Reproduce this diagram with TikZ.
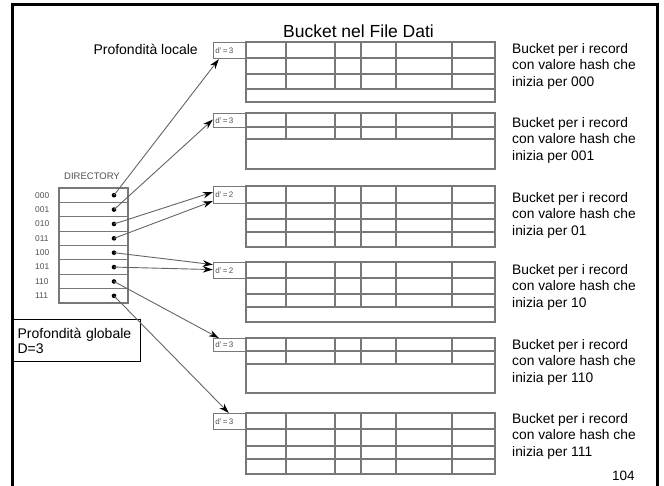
\documentclass[tikz,border=0pt]{standalone}
\usepackage{fontspec}
\setmainfont{Liberation Sans}
\usetikzlibrary{arrows.meta}
\definecolor{bkgray}{RGB}{120,120,120}
\definecolor{argray}{RGB}{100,100,100}
\definecolor{txtgray}{RGB}{80,80,80}
\newcommand\bkt[7]{% name, top, inner lines, vertical end, bottom, label, first row height
  \draw[bk] (246,#2) rectangle (495,#5);
  \foreach \yy in {#3} \draw[bk] (246,\yy) -- (495,\yy);
  \foreach \xx in {286,335,361,396,452} \draw[bk] (\xx,#2) -- (\xx,#4);
  \node[dbox, minimum height=#7pt, anchor=north east] (#1) at (246,#2) {#6};
}
\begin{document}
\begin{tikzpicture}[x=1pt,y=-1pt,
  bk/.style={draw=bkgray, line width=1.2pt},
  dbox/.style={draw=bkgray, line width=1.2pt, inner sep=0pt, minimum width=32pt, text width=28pt, align=left, font=\fontsize{8}{9}\selectfont, text=txtgray},
  dotpt/.style={circle, fill=black, inner sep=0pt, minimum size=4.6pt},
  arr/.style={draw=argray, line width=0.9pt, -{Stealth[length=10pt,width=6.5pt,black]}},
  lbl/.style={anchor=north west, inner sep=0pt, align=left, font=\fontsize{13.8}{16.5}\selectfont},
  dirl/.style={anchor=west, inner sep=0pt, font=\fontsize{8.4}{9}\selectfont, text=txtgray},
]
\useasboundingbox (0,0) rectangle (664,485);
\draw[line width=3pt] (12,487) -- (12,4) -- (657,4) -- (657,487);

% title and labels
\node[anchor=base, inner sep=0pt, font=\fontsize{17.5}{20}\selectfont] (title) at (358.5,37) {Bucket nel File Dati};
\node[anchor=base east, inner sep=0pt, font=\fontsize{14}{16}\selectfont] (ploc) at (198,54) {Profondità locale};

% buckets
\bkt{b1}{42}{58,74,89}{89}{102}{d'\,=\,3}{16}
\bkt{b2}{113}{127,139}{139}{169}{d'\,=\,3}{14}
\bkt{b3}{186}{203,219,232}{247}{247}{d'\,=\,2}{17}
\bkt{b4}{262}{278,294,307}{307}{322}{d'\,=\,2}{16}
\bkt{b5}{338}{351,364}{364}{393}{d'\,=\,3}{13}
\bkt{b6}{413}{429,446,459}{474}{474}{d'\,=\,3}{16}

% right labels
\node[lbl] (l1) at (512,43) {Bucket per i record\\con valore hash che\\inizia per 000};
\node[lbl] (l2) at (512,117) {Bucket per i record\\con valore hash che\\inizia per 001};
\node[lbl] (l3) at (512,192) {Bucket per i record\\con valore hash che\\inizia per 01};
\node[lbl] (l4) at (512,264) {Bucket per i record\\con valore hash che\\inizia per 10};
\node[lbl] (l5) at (512,339) {Bucket per i record\\con valore hash che\\inizia per 110};
\node[lbl] (l6) at (512,413) {Bucket per i record\\con valore hash che\\inizia per 111};
\node[anchor=base west, inner sep=0pt, font=\fontsize{13.5}{15}\selectfont] (pg) at (612,480) {104};

% directory
\node[inner sep=0pt, font=\fontsize{9.5}{10}\selectfont, text=txtgray] (dirt) at (92,176) {DIRECTORY};
\draw[bk] (59,188) rectangle (128,303);
\foreach \i in {1,...,7} \draw[bk] (59,188+14.375*\i) -- (128,188+14.375*\i);
\foreach \lab [count=\i from 0] in {000,001,010,011,100,101,110,111} {
  \node[dirl] (t\lab) at (35,195.2+14.375*\i) {\lab};
  \node[dotpt] (p\lab) at (114,195.2+14.375*\i) {};
}

% global depth box
\node[draw, line width=1.2pt, anchor=north west, minimum height=42pt, text width=118pt, inner xsep=5pt, inner ysep=0pt, align=left, font=\fontsize{14}{15}\selectfont] (glob) at (12,319) {Profondità globale\\D=3};

% arrows
\draw[arr] (p000.center) -- ([xshift=6pt]b1.south west);
\draw[arr] (p001.center) -- ([yshift=1pt]b2.west);
\draw[arr] (p010.center) -- ([yshift=3pt]b3.west);
\draw[arr] (p011.center) -- ([yshift=-6pt]b3.west);
\draw[arr] (p100.center) -- ([yshift=6pt]b4.west);
\draw[arr] (p101.center) -- ([yshift=1pt]b4.west);
\draw[arr] (p110.center) -- ([xshift=6pt]b5.north west);
\draw[arr] (p111.center) -- ([xshift=16pt]b6.north west);
\end{tikzpicture}
\end{document}
